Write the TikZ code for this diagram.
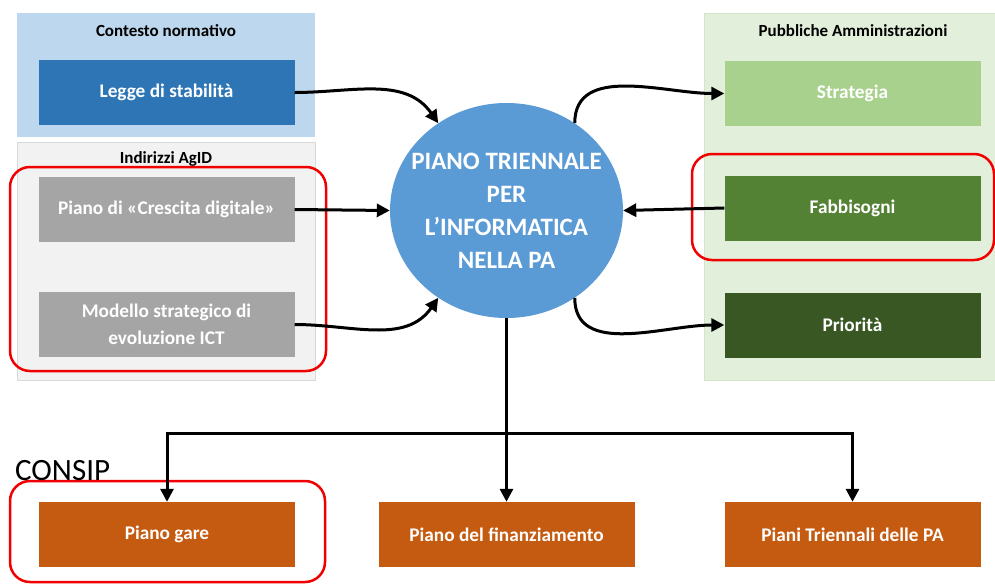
\documentclass[tikz,border=0pt]{standalone}
\usepackage{fontspec}
\setmainfont{Carlito}
\usetikzlibrary{arrows.meta,shapes.geometric}

\definecolor{contestobg}{HTML}{BDD7EE}
\definecolor{leggeblue}{HTML}{2E75B6}
\definecolor{agidbg}{HTML}{F2F2F2}
\definecolor{agidline}{HTML}{D9D9D9}
\definecolor{agidgray}{HTML}{A5A5A5}
\definecolor{pabg}{HTML}{E2EFDA}
\definecolor{paline}{HTML}{D3E6C8}
\definecolor{greenlight}{HTML}{A9D18E}
\definecolor{greenmid}{HTML}{548235}
\definecolor{greendark}{HTML}{385723}
\definecolor{consiporange}{HTML}{C55A11}
\definecolor{pianoblue}{HTML}{5B9BD5}
\definecolor{framered}{HTML}{F00000}

\begin{document}
\begin{tikzpicture}[x=1pt, y=-1pt, >={Triangle[length=13pt,width=13pt]},
    box/.style={rectangle, minimum width=256pt, minimum height=65pt, inner sep=0pt,
        text=white, align=center, font=\bfseries\fontsize{19.3}{27}\selectfont},
    paneltitle/.style={font=\bfseries\fontsize{17}{20}\selectfont},
    conn/.style={->, line width=3pt},
    redframe/.style={draw=framered, line width=2.5pt, rounded corners=20pt}]
    \useasboundingbox (0,0) rectangle (995,584);

    % panels
    \fill[contestobg] (17,13) rectangle (315,137);
    \filldraw[fill=agidbg, draw=agidline] (17,142) rectangle (315,380);
    \filldraw[fill=pabg, draw=paline] (704,13) rectangle (1000,380);
    \node[paneltitle] (contesto) at (166,31) {Contesto normativo};
    \node[paneltitle] (agid) at (166,159) {Indirizzi AgID};
    \node[paneltitle] (pubbliche) at (853,31) {Pubbliche Amministrazioni};

    % red frames
    \draw[redframe] (10,167) rectangle (326,371);
    \draw[redframe] (692,154) rectangle (994,260);
    \draw[redframe] (10,481) rectangle (325,582);

    \node[box, fill=leggeblue] (legge) at (166.5,92.5) {Legge di stabilità};
    \node[box, fill=agidgray] (crescita) at (166.5,209.5) {Piano di «Crescita digitale»};
    \node[box, fill=agidgray] (modello) at (166.5,324.5) {Modello strategico di\\evoluzione ICT};

    \node[box, fill=greenlight] (strategia) at (852.5,93.5) {Strategia};
    \node[box, fill=greenmid] (fabbisogni) at (852.5,208) {Fabbisogni};
    \node[box, fill=greendark] (priorita) at (852.5,325) {Priorità};

    \node[box, fill=consiporange] (gare) at (167,534.5) {Piano gare};
    \node[box, fill=consiporange] (finanziamento) at (506.5,534.5) {Piano del finanziamento};
    \node[box, fill=consiporange] (triennali) at (852.5,534.5) {Piani Triennali delle PA};

    \node[anchor=base west, inner sep=0pt, font=\fontsize{31}{36}\selectfont] (consip) at (15,480) {CONSIP};

    \node[ellipse, fill=pianoblue, minimum width=233pt, minimum height=215pt,
        inner xsep=-14pt, inner ysep=10pt,
        text=white, align=center, font=\bfseries\fontsize{25}{33}\selectfont] (piano) at (506.5,210.5)
        {PIANO TRIENNALE\\PER\\L’INFORMATICA\\NELLA PA};

    % connectors
    \draw[conn] (legge.east) to[out=0, in=125] (piano.128);
    \draw[conn] (crescita.east) -- (piano.west);
    \draw[conn] (modello.east) to[out=0, in=-125] (piano.-128);
    \draw[conn] (piano.52) to[out=90, in=180] (strategia.west);
    \draw[conn] (fabbisogni.west) -- (piano.east);
    \draw[conn] (piano.-52) to[out=-90, in=180] (priorita.west);

    \coordinate (bus) at (506.5,433);
    \draw[conn] (piano.south) -- (finanziamento.north);
    \draw[conn] (bus) -| (gare.north);
    \draw[conn] (bus) -| (triennali.north);
\end{tikzpicture}
\end{document}
